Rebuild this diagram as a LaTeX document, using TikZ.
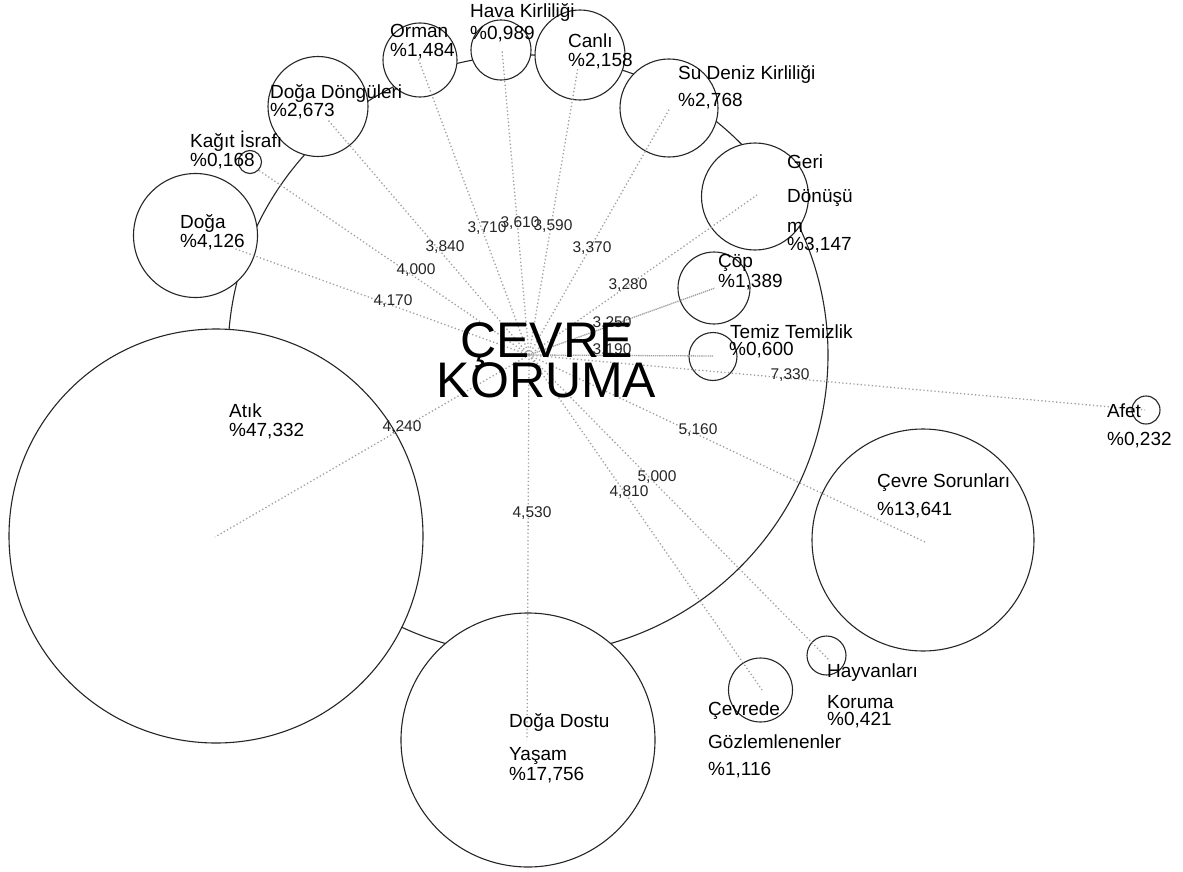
\documentclass[tikz,border=0pt]{standalone}
\usepackage{fontspec}
\setmainfont{Liberation Sans}
\definecolor{dotc}{HTML}{A0A0A0}
\definecolor{circc}{HTML}{262626}
\begin{document}
\begin{tikzpicture}[x=1pt,y=-1pt,
  bub/.style={circle, draw=circc, line width=1.1pt, fill=white, inner sep=0pt, minimum size=#1},
  ringc/.style={circle, draw=circc, line width=1.1pt, inner sep=0pt, minimum size=#1},
  edge/.style={draw=dotc, line width=1.3pt, dash pattern=on 1.3pt off 2.4pt},
  edgedense/.style={draw=dotc, line width=1.3pt, dash pattern=on 1.3pt off 0.8pt},
  lab/.style={anchor=base west, inner sep=0pt, font=\fontsize{19}{19}\selectfont, text=black},
  elab/.style={anchor=center, inner sep=0pt, font=\fontsize{15.5}{15.5}\selectfont, text=black!85},
  big/.style={anchor=base, inner sep=0pt, font=\fontsize{50}{50}\selectfont, text=black}
]
\fill[white] (0,0) rectangle (1183,872);
\useasboundingbox (0,0) rectangle (1183,872);

% ring
\node[ringc=600pt] (ring) at (528,355) {};
\coordinate (hub) at (529,355);

% bubbles
\node[bub=414pt] (atik) at (216,536) {};
\node[bub=124pt] (doga) at (195.5,235.5) {};
\node[bub=23pt] (kagit) at (250,162) {};
\node[bub=100pt] (dongu) at (318,106.5) {};
\node[bub=74pt] (orman) at (420,60) {};
\node[bub=60pt] (hava) at (501,50) {};
\node[bub=90pt] (canli) at (580,55) {};
\node[bub=98pt] (su) at (669,108) {};
\node[bub=107pt] (geri) at (755,196.5) {};
\node[bub=72pt] (cop) at (714,288) {};
\node[bub=48pt] (temiz) at (713,356.5) {};
\node[bub=28pt] (afet) at (1146,410) {};
\node[bub=222pt] (sorun) at (923,540) {};
\node[bub=39pt] (hayvan) at (826.5,655.5) {};
\node[bub=64pt] (gozlem) at (760.5,690) {};
\node[bub=254pt] (dostu) at (528,740) {};

% line ends
\coordinate (eatik) at (215,537);
\coordinate (edoga) at (233,248);
\coordinate (ekagit) at (257,169);
\coordinate (edongu) at (328,120);
\coordinate (eorman) at (418,58);
\coordinate (ehava) at (502,50);
\coordinate (ecanli) at (578,67);
\coordinate (esu) at (670,108);
\coordinate (egeri) at (757,195);
\coordinate (ecop) at (715,288);
\coordinate (etemiz) at (713,356);
\coordinate (eafet) at (1145,410);
\coordinate (esorun) at (925,542);
\coordinate (ehayvan) at (830,661);
\coordinate (egozlem) at (762,690);
\coordinate (edostu) at (527,740);

% connectors
\draw[edge] (hub) -- (eatik);
\draw[edge] (hub) -- (edoga);
\draw[edge] (hub) -- (ekagit);
\draw[edge] (hub) -- (edongu);
\draw[edge] (hub) -- (eorman);
\draw[edge] (hub) -- (ehava);
\draw[edge] (hub) -- (ecanli);
\draw[edge] (hub) -- (esu);
\draw[edge] (hub) -- (egeri);
\draw[edgedense] (hub) -- (ecop);
\draw[edgedense] (hub) -- (etemiz);
\draw[edge] (hub) -- (eafet);
\draw[edge] (hub) -- (esorun);
\draw[edge] (hub) -- (ehayvan);
\draw[edge] (hub) -- (egozlem);
\draw[edge] (hub) -- (edostu);

% edge labels
\node[elab] (latik) at (402,427) {4,240};
\node[elab] (ldoga) at (393,301) {4,170};
\node[elab] (lkagit) at (416,270) {4,000};
\node[elab] (ldongu) at (445,247) {3,840};
\node[elab] (lorman) at (487,228) {3,710};
\node[elab] (lhava) at (520,223) {3,610};
\node[elab] (lcanli) at (553,226) {3,590};
\node[elab] (lsu) at (592,248) {3,370};
\node[elab] (lgeri) at (628,285) {3,280};
\node[elab] (lcop) at (612,323) {3,250};
\node[elab] (ltemiz) at (612,350) {3,190};
\node[elab] (lafet) at (790,375) {7,330};
\node[elab] (lsorun) at (698,430) {5,160};
\node[elab] (lhayvan) at (657,477) {5,000};
\node[elab] (lgozlem) at (629,492) {4,810};
\node[elab] (ldostu) at (532,513) {4,530};

% node labels
\node[lab] (tatikA) at (229,417) {Atık};
\node[lab] (tatikB) at (229,436) {\%47,332};
\node[lab] (tdogaA) at (180,228) {Doğa};
\node[lab] (tdogaB) at (180,247) {\%4,126};
\node[lab] (tkagitA) at (190,148) {Kağıt İsrafı};
\node[lab] (tkagitB) at (190,167) {\%0,168};
\node[lab] (tdonguA) at (270,99) {Doğa Döngüleri};
\node[lab] (tdonguB) at (270,117) {\%2,673};
\node[lab] (tormanA) at (390,38) {Orman};
\node[lab] (tormanB) at (390,57) {\%1,484};
\node[lab] (thavaA) at (470,18) {Hava Kirliliği};
\node[lab] (thavaB) at (470,40) {\%0,989};
\node[lab] (tcanliA) at (568,48) {Canlı};
\node[lab] (tcanliB) at (568,67) {\%2,158};
\node[lab] (tsuA) at (678,80) {Su Deniz Kirliliği};
\node[lab] (tsuB) at (678,107) {\%2,768};
\node[lab] (tgeriA) at (787,168) {Geri};
\node[lab] (tgeriB) at (787,202) {Dönüşü};
\node[lab] (tgeriC) at (787,232) {m};
\node[lab] (tgeriD) at (787,250) {\%3,147};
\node[lab] (tcopA) at (718,267) {Çöp};
\node[lab] (tcopB) at (718,287) {\%1,389};
\node[lab] (ttemizA) at (730,338) {Temiz Temizlik};
\node[lab] (ttemizB) at (729,355) {\%0,600};
\node[lab] (tafetA) at (1107,417) {Afet};
\node[lab] (tafetB) at (1107,445) {\%0,232};
\node[lab] (tsorunA) at (877,487) {Çevre Sorunları};
\node[lab] (tsorunB) at (877,515) {\%13,641};
\node[lab] (thayvanA) at (827,677) {Hayvanları};
\node[lab] (thayvanB) at (827,708) {Koruma};
\node[lab] (thayvanC) at (827,725) {\%0,421};
\node[lab] (tgozlemA) at (708,715) {Çevrede};
\node[lab] (tgozlemB) at (708,748) {Gözlemlenenler};
\node[lab] (tgozlemC) at (708,775) {\%1,116};
\node[lab] (tdostuA) at (509,727) {Doğa Dostu};
\node[lab] (tdostuB) at (509,760) {Yaşam};
\node[lab] (tdostuC) at (509,780) {\%17,756};

% centre title
\node[big] (titleA) at (546.5,357) {ÇEVRE};
\node[big] (titleB) at (546.5,397) {KORUMA};
\end{tikzpicture}
\end{document}
